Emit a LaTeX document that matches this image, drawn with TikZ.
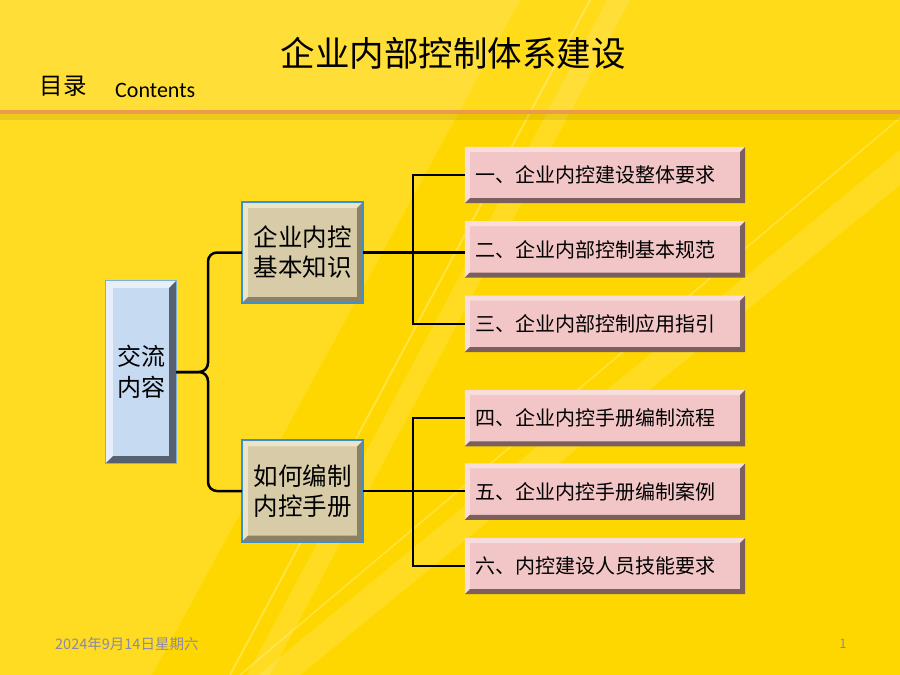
\documentclass[tikz,border=0pt]{standalone}
\usepackage{fontspec}
\setmainfont{Noto Sans CJK SC}
\newfontfamily\latinfont{Carlito}
\usetikzlibrary{positioning}
\definecolor{bgyellow}{HTML}{FFD700}
\definecolor{rulecol}{HTML}{EE9A48}
\definecolor{leafpink}{HTML}{F2C6C6}
\definecolor{leaflight}{HTML}{F9DCDC}
\definecolor{leafdark}{HTML}{7B5E5E}
\definecolor{midtan}{HTML}{D7CCA7}
\definecolor{midlight}{HTML}{ECE4C8}
\definecolor{middark}{HTML}{8C8262}
\definecolor{midblue}{HTML}{3D8FD1}
\definecolor{rootblue}{HTML}{C6DAF2}
\definecolor{rootlight}{HTML}{E6EFFA}
\definecolor{rootdark}{HTML}{56606E}
\definecolor{footgray}{HTML}{8A8AA6}
\tikzset{
  leafbox/.style={minimum width=280pt,minimum height=56pt,inner sep=0pt,
    fill=leafpink,text width=260pt,align=left,font=\fontsize{20}{24}\selectfont},
  midbox/.style={minimum width=121pt,minimum height=101pt,inner sep=0pt,
    fill=midtan,align=center,font=\fontsize{24.5}{30}\selectfont},
  rootbox/.style={minimum width=70pt,minimum height=182pt,inner sep=0pt,
    fill=rootblue,align=center,font=\fontsize{24}{31}\selectfont},
  conn/.style={line width=2.5pt,black,rounded corners=9pt},
  stripe/.style={fill=white,opacity=.13},
}
% bevel: node, width, light colour, dark colour
\newcommand\bevel[4]{%
  \fill[#3] (#1.north west) -- (#1.north east) -- ([shift={(-#2,#2)}]#1.north east)
    -- ([shift={(#2,#2)}]#1.north west) -- ([shift={(#2,-#2)}]#1.south west) -- (#1.south west) -- cycle;
  \fill[#4] (#1.north east) -- (#1.south east) -- (#1.south west) -- ([shift={(#2,-#2)}]#1.south west)
    -- ([shift={(-#2,-#2)}]#1.south east) -- ([shift={(-#2,#2)}]#1.north east) -- cycle;
}
\begin{document}
\begin{tikzpicture}[x=1pt,y=-1pt]
\useasboundingbox (0,0) rectangle (900,675);
% background
\fill[bgyellow] (0,0) rectangle (900,675);
\fill[stripe] (0,0) -- (520,0) -- (152,675) -- (0,675) -- cycle;
\fill[stripe,opacity=.1] (0,0) rectangle (900,110);
\fill[stripe] (247,675) -- (270,675) -- (630,0) -- (607,0) -- cycle;
\draw[white,opacity=.25,line width=2pt] (230,675) -- (590,0);
\fill[stripe] (900,150) -- (900,185) -- (300,675) -- (258,675) -- cycle;
\draw[white,opacity=.25,line width=1.5pt] (900,118) -- (240,675);
% header
\node (title) at (453,53) {\fontsize{34.5}{40}\selectfont 企业内部控制体系建设};
\node (mulu) at (63,86) {\fontsize{23.5}{28}\selectfont 目录};
\node[anchor=base west,inner sep=0pt] (contents) at (115,97) {\latinfont\fontsize{22}{26}\selectfont Contents};
\fill[black,opacity=.08] (0,114) rectangle (900,120);
\draw[rulecol,line width=4pt] (0,112) -- (900,112);
% boxes
\node[rootbox] (root) at (141,372) {交流\\内容};
\node[midbox] (mid1) at (302.5,252.5) {企业内控\\基本知识};
\node[midbox] (mid2) at (302.5,491) {如何编制\\内控手册};
\node[leafbox] (l1) at (605,175) {一、企业内控建设整体要求};
\node[leafbox,below=18pt of l1] (l2) {二、企业内部控制基本规范};
\node[leafbox,below=18pt of l2] (l3) {三、企业内部控制应用指引};
\node[leafbox,below=38pt of l3] (l4) {四、企业内控手册编制流程};
\node[leafbox,below=17pt of l4] (l5) {五、企业内控手册编制案例};
\node[leafbox,below=18pt of l5] (l6) {六、内控建设人员技能要求};
\foreach \n in {l1,l2,l3,l4,l5,l6}
  \bevel{\n}{5}{leaflight}{leafdark};
\foreach \n in {mid1,mid2}{
  \bevel{\n}{6}{midlight}{middark}
  \draw[midblue,line width=2pt] (\n.north west) rectangle (\n.south east);
}
\bevel{root}{7}{rootlight}{rootdark}
\draw[midblue!70,line width=1.2pt] (root.north west) rectangle (root.south east);
% connectors
\draw[conn] (root.east) -- (208,372) |- (mid1.west);
\draw[conn] (root.east) -- (208,372) |- (mid2.west);
\coordinate (j1) at ([xshift=50pt]mid1.east);
\coordinate (j2) at ([xshift=50pt]mid2.east);
\draw[line width=2.5pt] (mid1.east) -- (j1) (l1.west) -| (j1) |- (l3.west) (j1) -- (j1 -| l2.west);
\draw[line width=2.5pt] (mid2.east) -- (j2) (l4.west) -| (j2) |- (l6.west) (j2) -- (j2 -| l5.west);
% footer
\node[anchor=west,inner sep=0pt,text=footgray] (date) at (55,644) {\fontsize{14.5}{18}\selectfont 2024年9月14日星期六};
\node[text=footgray,inner sep=0pt] (page) at (843,644) {\fontsize{13}{16}\selectfont 1};
\end{tikzpicture}
\end{document}
